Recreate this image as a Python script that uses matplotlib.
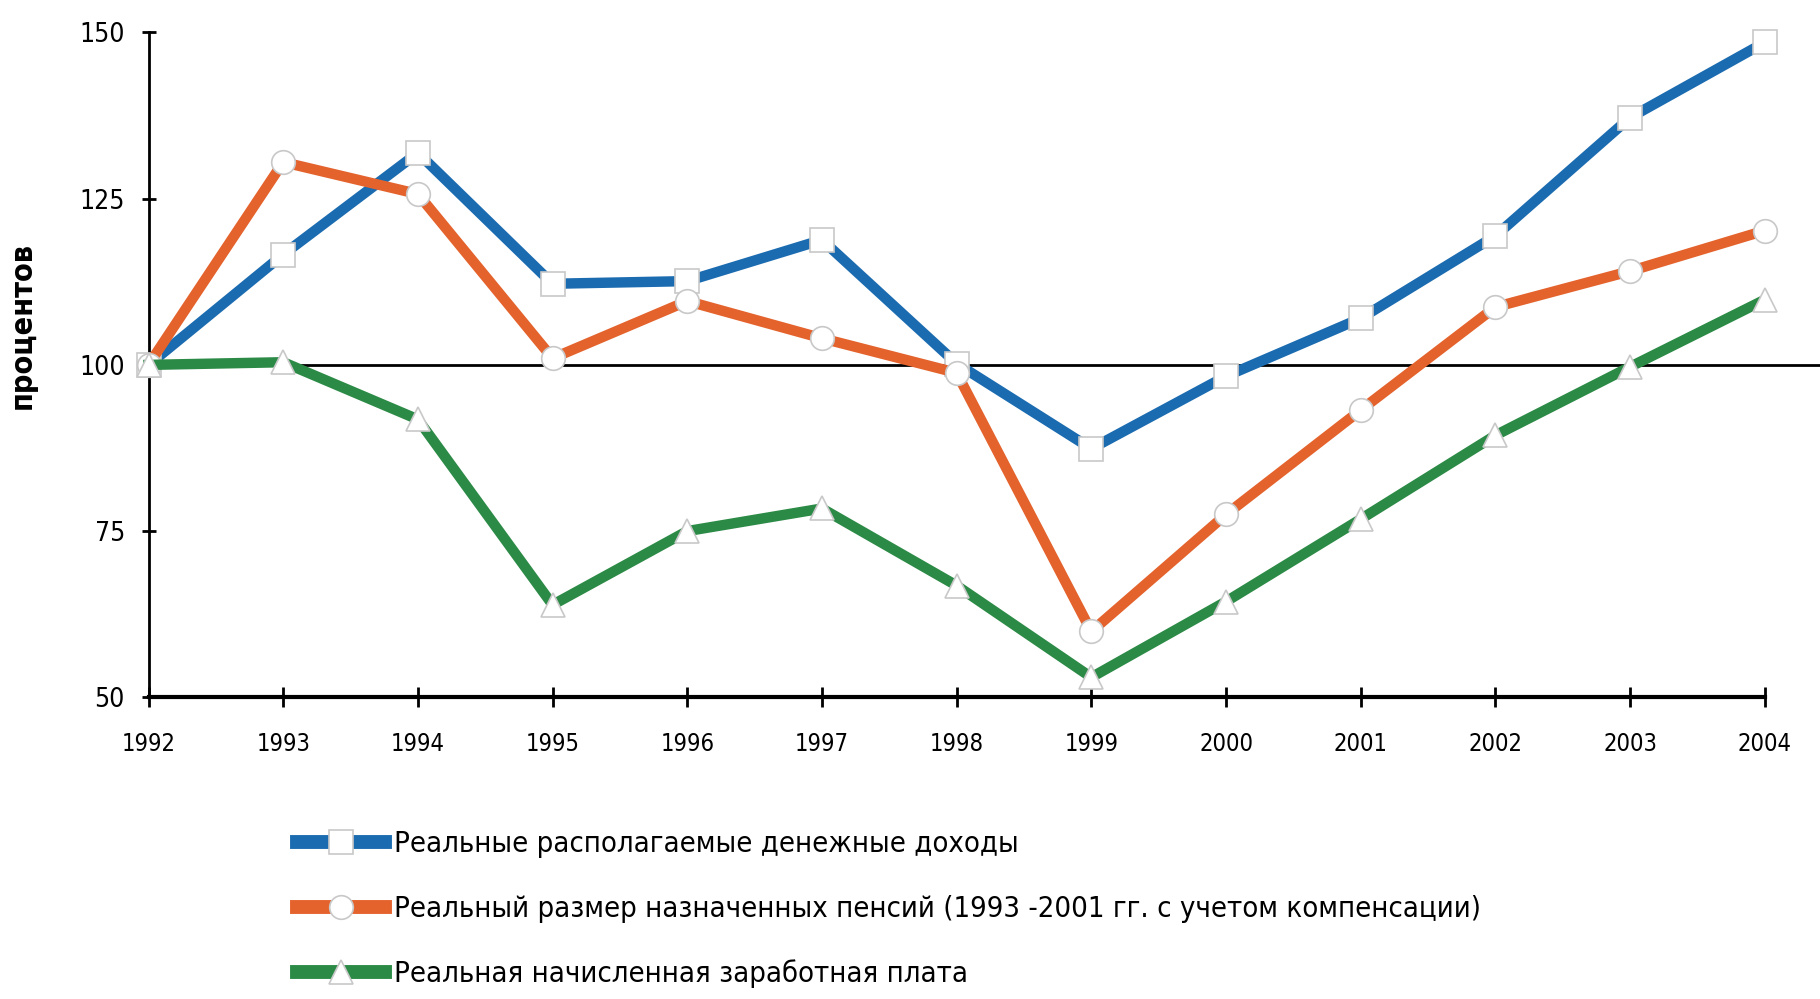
import matplotlib.pyplot as plt
from matplotlib.lines import Line2D

plt.rcParams['font.family'] = ['Liberation Sans Narrow', 'DejaVu Sans']
plt.rcParams['font.stretch'] = 'condensed'

# data
years = [1992, 1993, 1994, 1995, 1996, 1997, 1998, 1999, 2000, 2001, 2002, 2003, 2004]
income = [100, 116.6, 131.9, 112.2, 112.6, 118.8, 100.2, 87.4, 98.3, 107.0, 119.4, 137.2, 148.5]
pensions = [100, 130.5, 125.7, 101.0, 109.6, 104.0, 98.8, 59.9, 77.5, 93.2, 108.7, 114.1, 120.2]
wages = [100, 100.4, 91.8, 63.9, 75.0, 78.4, 66.8, 53.0, 64.4, 76.8, 89.4, 99.7, 109.8]
yticks = [50, 75, 100, 125, 150]

labels = ['Реальные располагаемые денежные доходы',
          'Реальный размер назначенных пенсий (1993 -2001 гг. с учетом компенсации)',
          'Реальная начисленная заработная плата']
colors = ['#1b6bb0', '#e4622c', '#2b8a45']
markers = ['s', 'o', '^']

fig = plt.figure(figsize=(18.2, 9.99), dpi=100)
ax = fig.add_axes([0.0816, 0.302, 0.9184, 0.6655])

ax.axhline(100, color='black', lw=2, zorder=1)

series = [income, pensions, wages]
handles = []
for vals, c, m, lab in zip(series, colors, markers, labels):
    ax.plot(years, vals, color=c, lw=7.5, marker=m, markersize=17,
            markerfacecolor='white', markeredgecolor='#c8c8c8', markeredgewidth=1.2,
            zorder=3, clip_on=False)
    handles.append(Line2D([], [], color=c, lw=10, marker=m, markersize=17,
                          markerfacecolor='white', markeredgecolor='#c8c8c8',
                          markeredgewidth=1.2, label=lab))

ax.set_xlim(1992, 2004.41)
ax.set_ylim(50, 150)
ax.set_xticks(years)
ax.set_yticks(yticks)
ax.tick_params(axis='x', direction='inout', length=14, width=2, labelsize=17, pad=18)
ax.tick_params(axis='y', direction='inout', length=10, width=2, labelsize=19, pad=12)

for s in ['top', 'right']:
    ax.spines[s].set_visible(False)
ax.spines['bottom'].set_bounds(1992, 2004)
ax.spines['bottom'].set_linewidth(3)
ax.spines['left'].set_linewidth(2)

ax.set_ylabel('процентов', fontsize=22, fontweight='bold')
ax.yaxis.set_label_coords(-0.067, 0.56)

fig.legend(handles=handles, loc='upper left', bbox_to_anchor=(0.149, 0.195),
           frameon=False, fontsize=21, handlelength=3.0, handletextpad=0.3,
           labelspacing=1.25, numpoints=1)

plt.savefig('out.png')
